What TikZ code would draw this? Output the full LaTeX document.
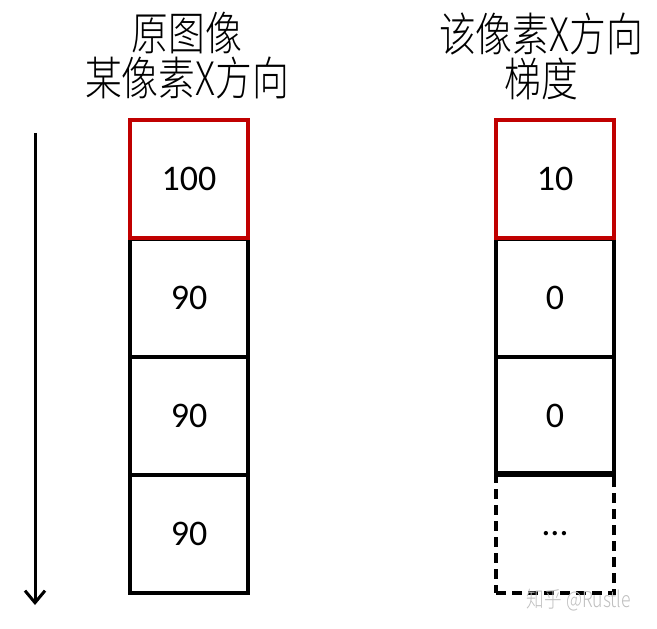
\documentclass[tikz,border=0pt]{standalone}
\usepackage{fontspec}
\usetikzlibrary{arrows.meta}
\setmainfont{Carlito}
\newfontfamily\cjk[FakeStretch=0.8]{Noto Sans CJK SC Light}
\definecolor{boxred}{RGB}{192,0,0}
\tikzset{
  cell/.style={draw, line width=4bp, minimum width=118bp, minimum height=118bp,
    inner sep=0pt, font=\fontsize{36bp}{40bp}\selectfont},
  hotcell/.style={cell, draw=boxred, line width=3.5bp},
  title/.style={align=center, font=\fontsize{46bp}{45bp}\cjk}
}
\begin{document}
\begin{tikzpicture}[x=1bp,y=-1bp]
    \useasboundingbox (0,0) rectangle (657,629);
    % titles
    \node[title] (ltitle) at (187,56) {原图像\\某像素X方向};
    \node[title] (rtitle) at (541,56) {该像素X方向\\梯度};
    % left column
    \node[cell] (l2) at (189,298) {90};
    \node[cell] (l3) at (189,416) {90};
    \node[cell] (l4) at (189,534) {90};
    \node[hotcell] (l1) at (189,179) {100};
    % right column
    \node[cell, dashed, dash pattern=on 10bp off 6bp] (r4) at (555,534) {\dots};
    \draw[line width=4bp] (r4.north west) -- (r4.north east);
    \node[cell] (r2) at (555,298) {0};
    \node[cell] (r3) at (555,416) {0};
    \node[hotcell] (r1) at (555,179) {10};
    % direction arrow
    \coordinate (top) at (35,133);
    \coordinate (bot) at (35,605);
    \draw[line width=3bp, -{Straight Barb[length=12bp,width=20bp]}] (top) -- (bot);
    % watermark
    \node[text=black!25, font=\fontsize{22bp}{24bp}\cjk] (mark) at (579,600) {知乎 @Rustle};
\end{tikzpicture}
\end{document}
